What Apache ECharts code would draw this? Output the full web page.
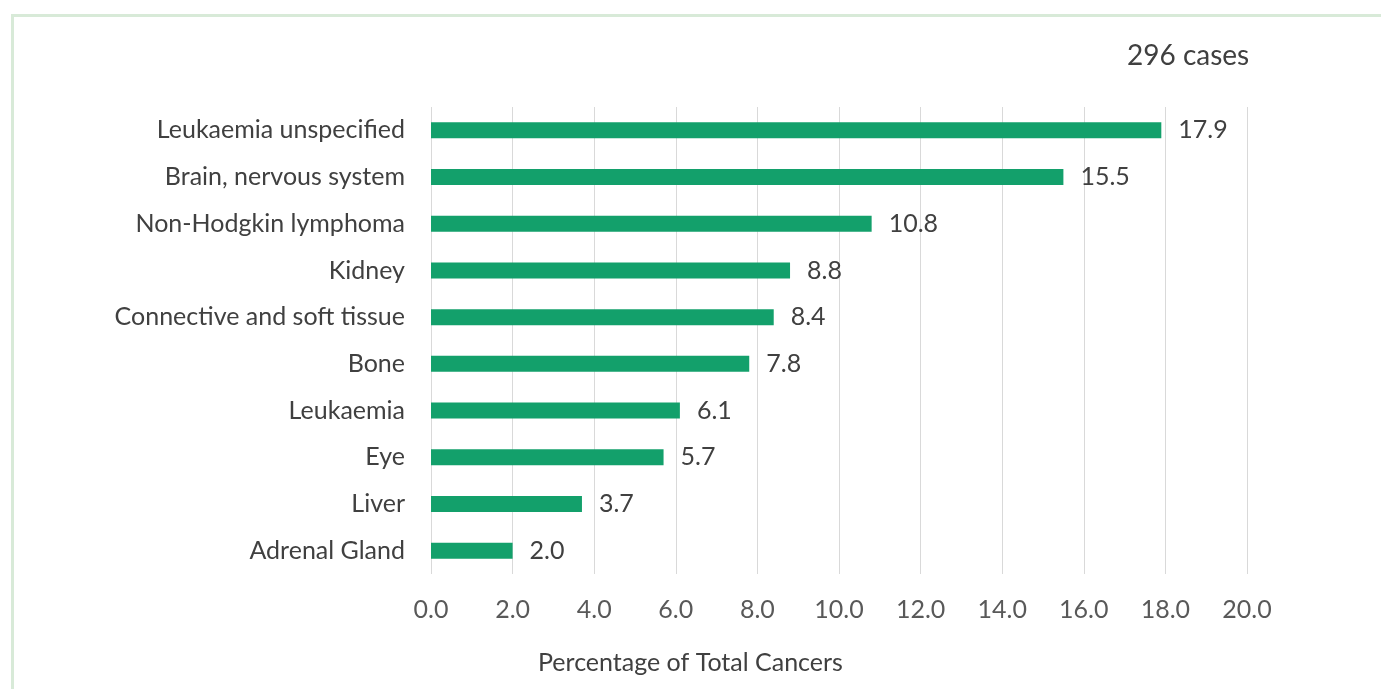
<!DOCTYPE html>
<html><head><meta charset="utf-8">
<script src="https://cdn.jsdelivr.net/npm/echarts@6/dist/echarts.min.js"></script>
<style>html,body{margin:0;padding:0;background:#fff}#c{width:1381px;height:689px}</style>
</head><body><div id="c"></div>
<script>
const categories = ["Leukaemia unspecified","Brain, nervous system","Non-Hodgkin lymphoma","Kidney","Connective and soft tissue","Bone","Leukaemia","Eye","Liver","Adrenal Gland"];
const values = [17.9,15.5,10.8,8.8,8.4,7.8,6.1,5.7,3.7,2.0];
const axisTitle = "Percentage of Total Cancers";
const casesLabel = "296 cases";
const FONT = "Lato, sans-serif";
const chart = echarts.init(document.getElementById('c'));
chart.setOption({
  animation:false,
  backgroundColor:'#fff',
  graphic:[
    {type:'rect',shape:{x:12.5,y:15.5,width:1400,height:700},style:{fill:'none',stroke:'#d8ead8',lineWidth:3}},
    {type:'text',left:1127,top:42,style:{text:casesLabel,font:"28px "+FONT,fill:'#404040'}},
    {type:'text',left:538,top:650,style:{text:axisTitle,font:"25px "+FONT,fill:'#404040'}}
  ],
  grid:{left:431,right:134,top:107,bottom:115,containLabel:false},
  xAxis:{type:'value',min:0,max:20,interval:2,
    axisLine:{show:false},axisTick:{show:false},
    splitLine:{lineStyle:{color:'#d9d9d9',width:1}},
    axisLabel:{formatter:v=>v.toFixed(1),fontFamily:FONT,fontSize:25,color:'#595959',margin:23}},
  yAxis:{type:'category',data:categories,inverse:true,
    axisLine:{show:false},axisTick:{show:false},
    axisLabel:{fontFamily:FONT,fontSize:25,color:'#404040',margin:26}},
  series:[{type:'bar',data:values,barWidth:16,itemStyle:{color:'#13a06b'},
    label:{show:true,position:'right',distance:17,formatter:p=>p.value.toFixed(1),fontFamily:FONT,fontSize:25,color:'#404040'}}]
});
</script></body></html>
